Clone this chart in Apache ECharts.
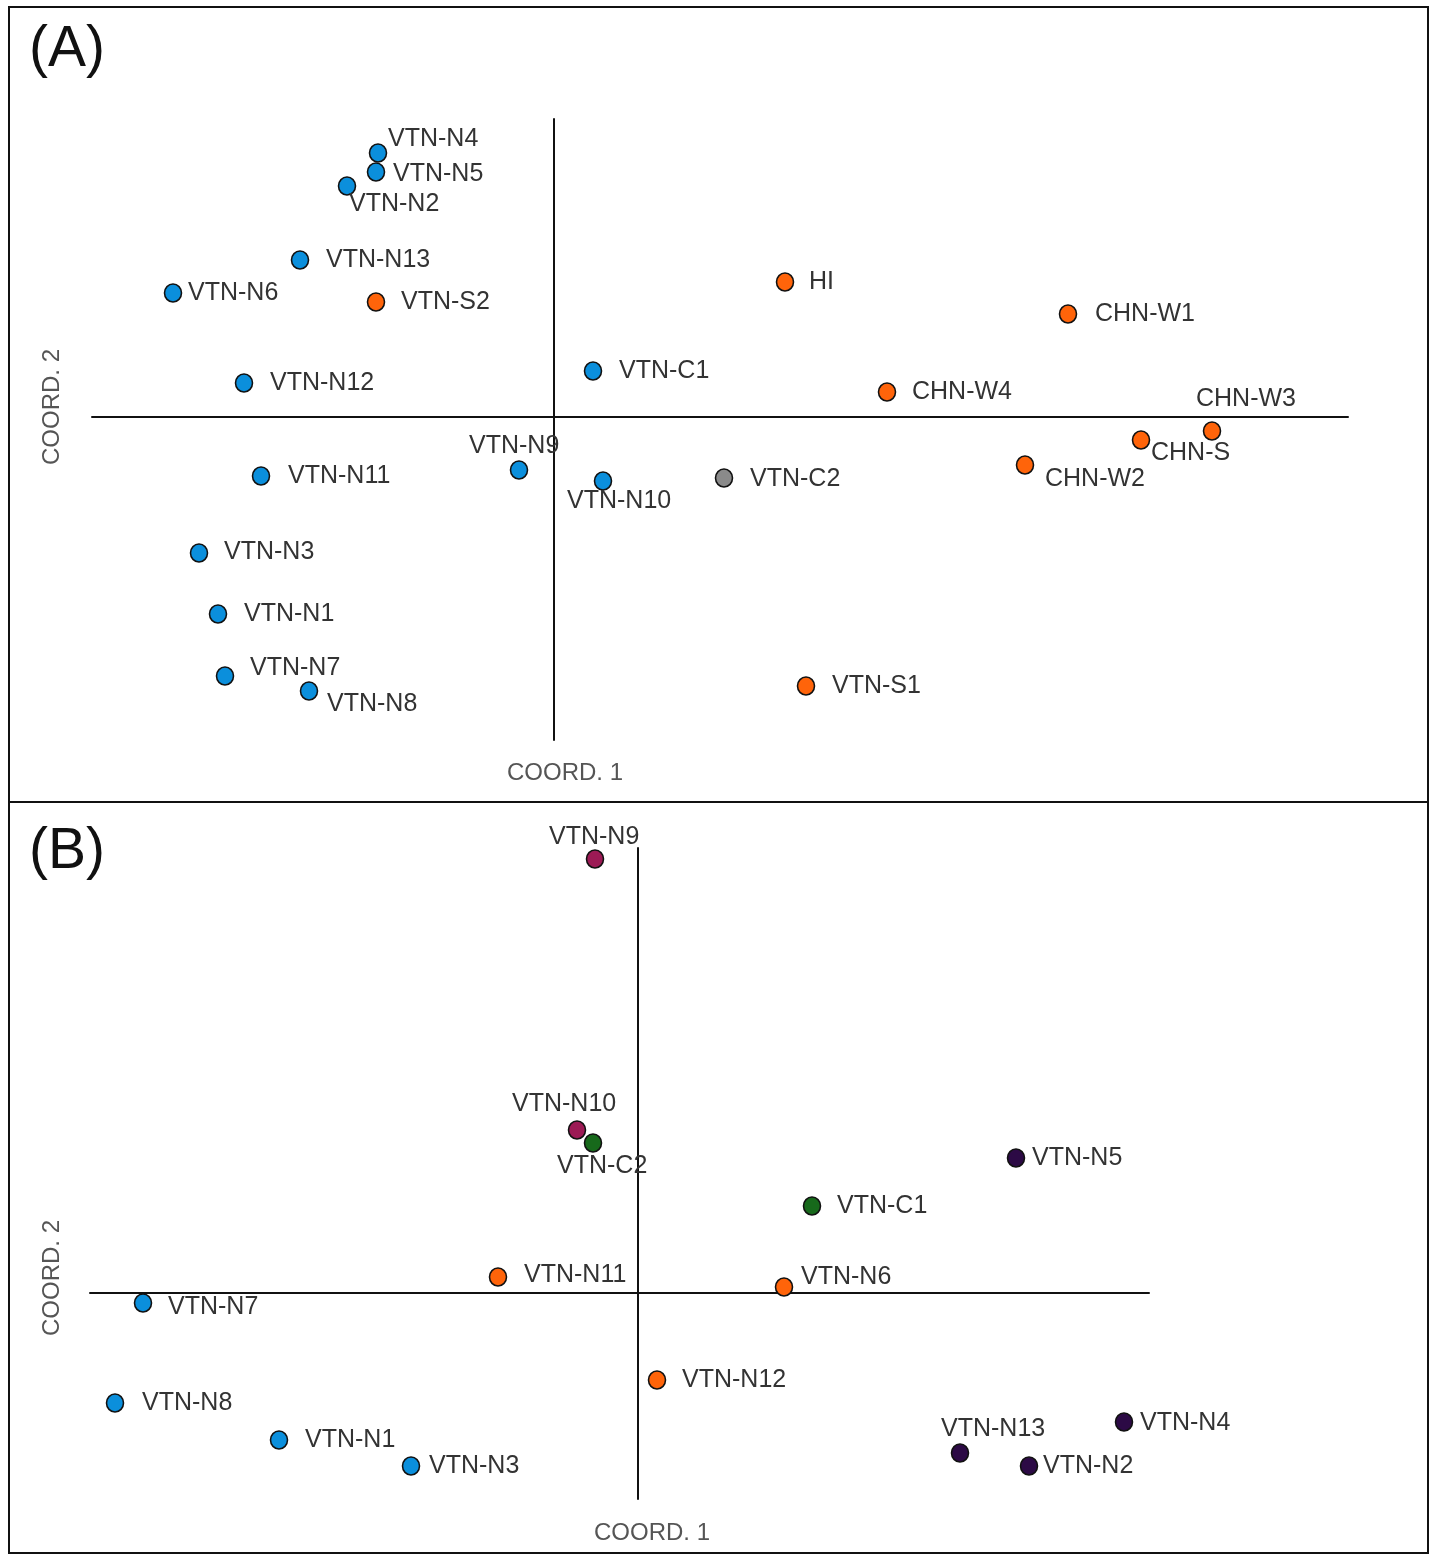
<!DOCTYPE html>
<html>
<head>
<meta charset="utf-8">
<script src="https://cdn.jsdelivr.net/npm/echarts@6/dist/echarts.min.js"></script>
<style>
html,body{margin:0;padding:0;background:#fff;}
#main{width:1432px;height:1555px;}
</style>
</head>
<body>
<div id="main"></div>
<script>
// ---------- Panel A data (PCoA coordinates, arbitrary units) ----------
const namesA = ['VTN-N4','VTN-N5','VTN-N2','VTN-N13','VTN-N6','VTN-S2','VTN-N12','VTN-C1','HI','CHN-W1','CHN-W4','CHN-W3','CHN-S','CHN-W2','VTN-C2','VTN-N10','VTN-N9','VTN-N11','VTN-N3','VTN-N1','VTN-N7','VTN-N8','VTN-S1'];
const coord1A = [-1.76,-1.78,-2.07,-2.54,-3.81,-1.78,-3.10,0.39,2.31,5.14,3.33,6.58,5.87,4.71,1.70,0.49,-0.35,-2.93,-3.55,-3.36,-3.29,-2.45,2.52];
const coord2A = [2.64,2.45,2.31,1.57,1.24,1.15,0.34,0.46,1.35,1.03,0.25,-0.14,-0.23,-0.48,-0.61,-0.64,-0.53,-0.59,-1.36,-1.97,-2.59,-2.74,-2.69];
const groupA = ['blue','blue','blue','blue','blue','orange','blue','blue','orange','orange','orange','orange','orange','orange','gray','blue','blue','blue','blue','blue','blue','blue','orange'];

// ---------- Panel B data ----------
const namesB = ['VTN-N9','VTN-N10','VTN-C2','VTN-N5','VTN-C1','VTN-N11','VTN-N6','VTN-N7','VTN-N12','VTN-N8','VTN-N4','VTN-N13','VTN-N2','VTN-N1','VTN-N3'];
const coord1B = [-0.43,-0.61,-0.45,3.78,1.74,-1.40,1.46,-4.95,0.19,-5.23,4.86,3.22,3.91,-3.59,-2.27];
const coord2B = [4.34,1.63,1.50,1.35,0.87,0.16,0.06,-0.10,-0.87,-1.10,-1.29,-1.60,-1.73,-1.47,-1.73];
const groupB = ['maroon','maroon','green','purple','green','orange','orange','blue','orange','blue','purple','purple','purple','blue','blue'];

// ---------- label layout (pixel offsets of label left/center from the dot) ----------
const labelOffA = [[10,-14],[17,2],[2,18],[26,0],[15,0],[25,0],[26,0],[26,0],[24,0],[27,0],[25,0],[-16,-32],[10,13],[20,14],[26,1],[-36,20],[-50,-24],[27,0],[25,-1],[26,0],[25,-8],[18,13],[26,0]];
const labelOffB = [[-46,-22],[-65,-26],[-36,23],[16,0],[25,0],[26,-2],[17,-10],[25,4],[25,0],[27,0],[16,1],[-19,-24],[14,0],[26,0],[18,0]];

const palette = {blue:'#0b8fdc', orange:'#ff640a', gray:'#8a8a8a', maroon:'#9c1a55', green:'#17691b', purple:'#2c0a45'};

function buildData(names, xs, ys, groups, offs){
  return names.map((n,i)=>({
    name:n,
    value:[xs[i], ys[i]],
    itemStyle:{color: palette[groups[i]], opacity:1},
    label:{offset: offs[i]}
  }));
}

const axisLineStyle = {show:true, onZero:true, lineStyle:{color:'#111', width:2}};
function xAx(gi, min, max){
  return {type:'value', gridIndex:gi, min:min, max:max, axisLine:axisLineStyle, axisTick:{show:false}, axisLabel:{show:false}, splitLine:{show:false}};
}
function yAx(gi, min, max){
  return {type:'value', gridIndex:gi, min:min, max:max, axisLine:axisLineStyle, axisTick:{show:false}, axisLabel:{show:false}, splitLine:{show:false}};
}

const labelBase = {show:true, position:'inside', align:'left', verticalAlign:'middle', formatter:'{b}', color:'#333', fontSize:25, fontFamily:'Liberation Sans, Arial, sans-serif'};

const chart = echarts.init(document.getElementById('main'), null, {renderer:'canvas'});
chart.setOption({
  animation:false,
  backgroundColor:'#fff',
  grid:[
    {left:92, top:119, width:1256, height:621},
    {left:90, top:848, width:1059, height:651}
  ],
  xAxis:[xAx(0,-4.62,7.94), xAx(1,-5.48,5.11)],
  yAxis:[yAx(0,-3.23,2.98), yAx(1,-2.06,4.45)],
  series:[
    {type:'scatter', xAxisIndex:0, yAxisIndex:0, symbol:'circle', symbolSize:[17,18],
     itemStyle:{borderColor:'#111', borderWidth:1.6, opacity:1}, label:labelBase,
     emphasis:{disabled:true},
     data: buildData(namesA, coord1A, coord2A, groupA, labelOffA)},
    {type:'scatter', xAxisIndex:1, yAxisIndex:1, symbol:'circle', symbolSize:[17,18],
     itemStyle:{borderColor:'#111', borderWidth:1.6, opacity:1}, label:labelBase,
     emphasis:{disabled:true},
     data: buildData(namesB, coord1B, coord2B, groupB, labelOffB)}
  ],
  graphic:[
    {type:'rect', shape:{x:9, y:7, width:1419, height:795}, style:{fill:'none', stroke:'#111', lineWidth:2}, silent:true},
    {type:'rect', shape:{x:9, y:802, width:1419, height:751}, style:{fill:'none', stroke:'#111', lineWidth:2}, silent:true},
    {type:'text', left:29, top:22, style:{text:'(A)', fontSize:57, fill:'#111', fontFamily:'Liberation Sans, Arial, sans-serif'}},
    {type:'text', left:29, top:824, style:{text:'(B)', fontSize:57, fill:'#111', fontFamily:'Liberation Sans, Arial, sans-serif'}},
    {type:'text', x:565, y:773, style:{text:'COORD. 1', fontSize:24, fill:'#555', align:'center', verticalAlign:'middle', fontFamily:'Liberation Sans, Arial, sans-serif'}},
    {type:'text', x:52, y:407, rotation:Math.PI/2, style:{text:'COORD. 2', fontSize:24, fill:'#555', align:'center', verticalAlign:'middle', fontFamily:'Liberation Sans, Arial, sans-serif'}},
    {type:'text', x:652, y:1533, style:{text:'COORD. 1', fontSize:24, fill:'#555', align:'center', verticalAlign:'middle', fontFamily:'Liberation Sans, Arial, sans-serif'}},
    {type:'text', x:52, y:1278, rotation:Math.PI/2, style:{text:'COORD. 2', fontSize:24, fill:'#555', align:'center', verticalAlign:'middle', fontFamily:'Liberation Sans, Arial, sans-serif'}}
  ]
});
</script>
</body>
</html>
